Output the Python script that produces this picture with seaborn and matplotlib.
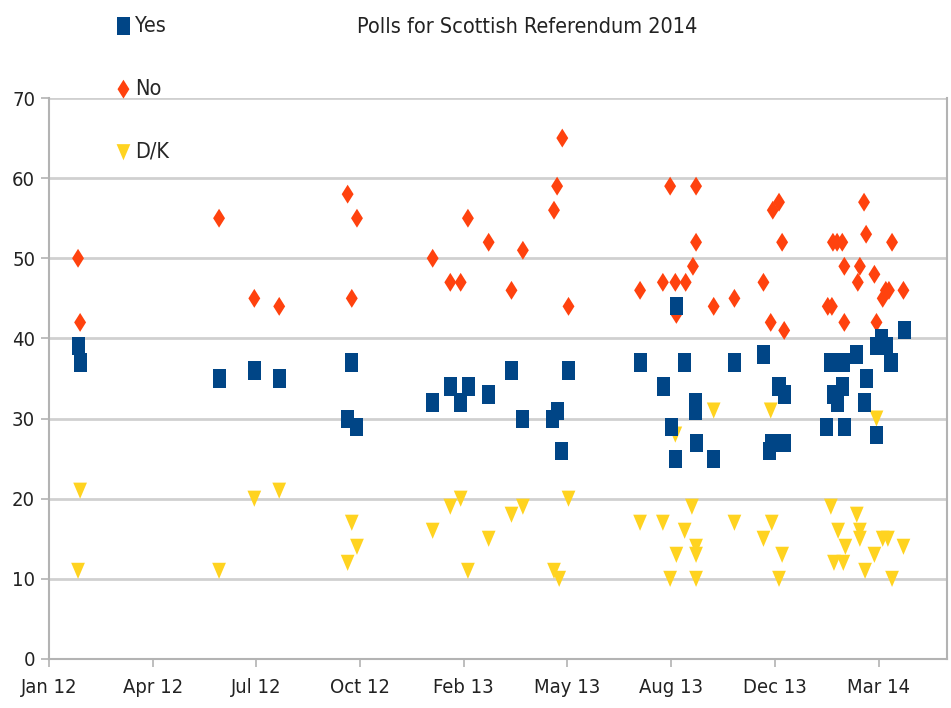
import pandas as pd
import matplotlib.pyplot as plt
import matplotlib.dates as mdates
import seaborn as sns

# Values (poll date, percentage)
yes_dates = ['2012-01-29', '2012-01-31', '2012-06-13', '2012-07-17', '2012-08-10', '2012-10-15',
             '2012-10-19', '2012-10-24', '2013-01-05', '2013-01-22', '2013-02-01', '2013-02-09',
             '2013-02-28', '2013-03-22', '2013-04-02', '2013-05-01', '2013-05-05', '2013-05-09',
             '2013-05-16', '2013-07-24', '2013-08-16', '2013-08-23', '2013-08-27', '2013-08-28',
             '2013-09-05', '2013-09-15', '2013-09-15', '2013-09-16', '2013-10-03', '2013-10-23',
             '2013-11-20', '2013-11-26', '2013-11-28', '2013-12-05', '2013-12-10', '2013-12-10',
             '2014-01-20', '2014-01-24', '2014-01-27', '2014-01-30', '2014-02-04', '2014-02-05',
             '2014-02-06', '2014-02-18', '2014-02-25', '2014-02-27', '2014-03-09', '2014-03-09',
             '2014-03-14', '2014-03-19', '2014-03-23', '2014-04-05']
yes_values = [39, 37, 35, 36, 35, 30, 37, 29, 32, 34, 32, 34, 33, 36, 30, 30, 31, 26, 36, 37,
              34, 29, 25, 44, 37, 32, 31, 27, 25, 37, 38, 26, 27, 34, 33, 27, 29, 37, 33, 32,
              34, 37, 29, 38, 32, 35, 28, 39, 40, 39, 37, 41]

no_dates = ['2012-01-29', '2012-01-31', '2012-06-13', '2012-07-17', '2012-08-10', '2012-10-15',
            '2012-10-19', '2012-10-24', '2013-01-05', '2013-01-22', '2013-02-01', '2013-02-08',
            '2013-02-28', '2013-03-22', '2013-04-02', '2013-05-02', '2013-05-05', '2013-05-10',
            '2013-05-16', '2013-07-24', '2013-08-15', '2013-08-22', '2013-08-27', '2013-08-28',
            '2013-09-06', '2013-09-13', '2013-09-16', '2013-09-16', '2013-10-03', '2013-10-23',
            '2013-11-20', '2013-11-27', '2013-11-29', '2013-12-05', '2013-12-08', '2013-12-10',
            '2014-01-21', '2014-01-25', '2014-01-26', '2014-01-30', '2014-02-04', '2014-02-06',
            '2014-02-06', '2014-02-19', '2014-02-21', '2014-02-25', '2014-02-27', '2014-03-07',
            '2014-03-09', '2014-03-15', '2014-03-18', '2014-03-21', '2014-03-24', '2014-04-04']
no_values = [50, 42, 55, 45, 44, 58, 45, 55, 50, 47, 47, 55, 52, 46, 51, 56, 59, 65, 44, 46,
             47, 59, 47, 43, 47, 49, 52, 59, 44, 45, 47, 42, 56, 57, 52, 41, 44, 44, 52, 52,
             52, 49, 42, 47, 49, 57, 53, 48, 42, 45, 46, 46, 52, 46]

dk_dates = ['2012-01-29', '2012-01-31', '2012-06-13', '2012-07-17', '2012-08-10', '2012-10-15',
            '2012-10-19', '2012-10-24', '2013-01-05', '2013-01-22', '2013-02-01', '2013-02-08',
            '2013-02-28', '2013-03-22', '2013-04-02', '2013-05-02', '2013-05-07', '2013-05-16',
            '2013-07-24', '2013-08-15', '2013-08-22', '2013-08-27', '2013-08-28', '2013-09-05',
            '2013-09-12', '2013-09-16', '2013-09-16', '2013-09-16', '2013-10-03', '2013-10-23',
            '2013-11-20', '2013-11-27', '2013-11-28', '2013-12-05', '2013-12-08', '2014-01-24',
            '2014-01-27', '2014-01-31', '2014-02-05', '2014-02-07', '2014-02-18', '2014-02-21',
            '2014-02-21', '2014-02-26', '2014-03-07', '2014-03-09', '2014-03-15', '2014-03-20',
            '2014-03-24', '2014-04-04']
dk_values = [11, 21, 11, 20, 21, 12, 17, 14, 16, 19, 20, 11, 15, 18, 19, 11, 10, 20, 17, 17,
             10, 28, 13, 16, 19, 14, 13, 10, 31, 17, 15, 31, 17, 10, 13, 19, 12, 16, 12, 14,
             18, 16, 15, 11, 13, 30, 15, 15, 10, 14]

tick_dates = ['2012-01-01', '2012-04-10', '2012-07-19', '2012-10-27', '2013-02-04',
              '2013-05-15', '2013-08-23', '2013-12-01', '2014-03-11']
tick_labels = ['Jan 12', 'Apr 12', 'Jul 12', 'Oct 12', 'Feb 13', 'May 13', 'Aug 13', 'Dec 13', 'Mar 14']

yes_df = pd.DataFrame({'date': pd.to_datetime(yes_dates), 'pct': yes_values})
no_df = pd.DataFrame({'date': pd.to_datetime(no_dates), 'pct': no_values})
dk_df = pd.DataFrame({'date': pd.to_datetime(dk_dates), 'pct': dk_values})

sns.set_theme(style='whitegrid')
plt.rcParams['font.family'] = ['DejaVu Sans']
plt.rcParams['font.stretch'] = 'condensed'

# tall, narrow marker shapes like the reference
square = [(-0.72, -1), (0.72, -1), (0.72, 1), (-0.72, 1)]
diamond = [(0, 1), (0.63, 0), (0, -1), (-0.63, 0)]
tri_down = [(-0.85, 1), (0.85, 1), (0, -1)]

fig = plt.figure(figsize=(9.51, 7.08), dpi=100)
ax = fig.add_axes([49 / 951, 1 - 659 / 708, 898 / 951, 561 / 708])

sns.scatterplot(data=dk_df, x='date', y='pct', marker=tri_down, s=135, color='#ffd320',
                edgecolor='none', linewidth=0, label='D/K', ax=ax, zorder=3)
sns.scatterplot(data=no_df, x='date', y='pct', marker=diamond, s=185, color='#ff420e',
                edgecolor='none', linewidth=0, label='No', ax=ax, zorder=4)
sns.scatterplot(data=yes_df, x='date', y='pct', marker=square, s=170, color='#004586',
                edgecolor='none', linewidth=0, label='Yes', ax=ax, zorder=5)

ax.set_xlim(pd.Timestamp('2012-01-01'), pd.Timestamp('2014-05-16'))
ax.set_ylim(0, 70)
ax.set_yticks(range(0, 71, 10))
ax.set_xticks(pd.to_datetime(tick_dates))
ax.set_xticklabels(tick_labels)
ax.set_xlabel('')
ax.set_ylabel('')

ax.grid(axis='x', visible=False)
ax.grid(axis='y', color='#d0d0d0', linewidth=2)
for side in ['left', 'bottom', 'right']:
    ax.spines[side].set_visible(True)
    ax.spines[side].set_color('#b3b3b3')
    ax.spines[side].set_linewidth(1.5)
ax.spines['top'].set_visible(False)
ax.tick_params(axis='both', which='major', length=6, width=1.2, color='#b3b3b3',
               labelsize=14.5, labelcolor='#222222', bottom=True, left=True)
ax.tick_params(axis='x', pad=8)
ax.tick_params(axis='y', pad=4)

fig.text(527 / 951, 1 - 27 / 708, 'Polls for Scottish Referendum 2014', ha='center', va='center',
         fontsize=15.5, color='#222222')

handles, labels = ax.get_legend_handles_labels()
order = [labels.index(n) for n in ['Yes', 'No', 'D/K']]
ax.get_legend().remove()
fig.legend([handles[i] for i in order], [labels[i] for i in order], loc='upper left',
           bbox_to_anchor=(103 / 951, 1 - 5 / 708), frameon=False, fontsize=15.5,
           labelspacing=2.0, handlelength=0.9, handletextpad=0.1, borderpad=0)

fig.savefig('out.png', dpi=100)
